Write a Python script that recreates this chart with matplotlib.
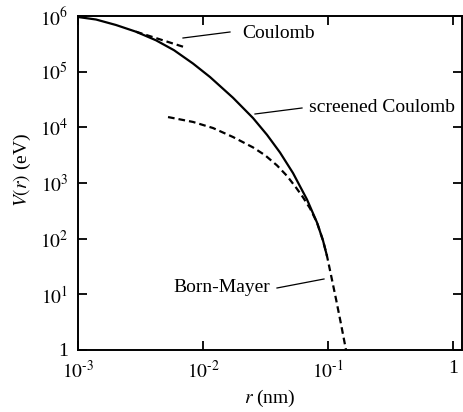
import numpy as np
import matplotlib
matplotlib.use("Agg")
import matplotlib.pyplot as plt
from matplotlib.ticker import FixedLocator, FuncFormatter, NullLocator

plt.rcParams['font.family'] = ['Liberation Serif', 'DejaVu Serif']
plt.rcParams['mathtext.fontset'] = 'stix'

# Screened Coulomb (solid), r in nm, V in eV
sc_r = [0.001, 0.001393, 0.002014, 0.002911, 0.004207, 0.005861, 0.008318, 0.011376,
        0.017378, 0.025119, 0.032509, 0.041305, 0.052481, 0.06792, 0.081658, 0.091201, 0.098175]
sc_v = [9.59e5, 8.65e5, 6.89e5, 5.22e5, 3.66e5, 2.43e5, 1.40e5, 8.02e4,
        3.40e4, 1.47e4, 7.34e3, 3.53e3, 1.51e3, 505, 195, 92.7, 48.8]

# Coulomb (dashed, visible part)
c_r = [0.002911, 0.00705]
c_v = [5.22e5, 2.77e5]

# Born-Mayer (dashed)
bm_r = [0.00525, 0.00832, 0.01202, 0.01738, 0.02512, 0.03133, 0.03908, 0.04699, 0.05546,
        0.0631, 0.07178, 0.081658, 0.091201, 0.098175, 0.10568, 0.11588, 0.12706, 0.13932]
bm_v = [1.53e4, 1.25e4, 9.72e3, 6.70e3, 4.36e3, 3.16e3, 2.07e3, 1.34e3, 830,
        553, 351, 195, 92.7, 48.8, 22.2, 8.24, 2.93, 1.0]

xticks = [1e-3, 1e-2, 1e-1, 1]
yticks = [1, 1e1, 1e2, 1e3, 1e4, 1e5, 1e6]

fig = plt.figure(figsize=(4.63, 4.12), dpi=100)
ax = fig.add_axes([78/463, 1-350/412, (462-78)/463, (350-16)/412])

dash = (0, (3, 1.8))
ax.plot(c_r, c_v, color='black', lw=1.6, ls=dash)
ax.plot(bm_r, bm_v, color='black', lw=1.6, ls=dash)
ax.plot(sc_r, sc_v, color='black', lw=1.6, solid_capstyle='butt')

ax.set_xscale('log')
ax.set_yscale('log')
ax.set_xlim(1e-3, 10**0.072)
ax.set_ylim(1, 1e6)

def fmt(v, pos):
    if abs(v - 1) < 1e-9:
        return '1'
    n = int(round(np.log10(v)))
    if n < 0:
        return r'$10^{\text{-}%d}$' % (-n)
    return r'$10^{%d}$' % n

ax.xaxis.set_major_locator(FixedLocator(xticks))
ax.yaxis.set_major_locator(FixedLocator(yticks))
ax.xaxis.set_minor_locator(NullLocator())
ax.yaxis.set_minor_locator(NullLocator())
ax.xaxis.set_major_formatter(FuncFormatter(fmt))
ax.yaxis.set_major_formatter(FuncFormatter(fmt))
ax.tick_params(which='major', direction='in', length=6.5, width=1.3,
               top=True, right=True, labelsize=14, pad=7)
for s in ax.spines.values():
    s.set_linewidth(1.4)

ax.set_xlabel(r'$r$ (nm)', fontsize=14, labelpad=4)
ax.set_ylabel(r'$V(r)$ (eV)', fontsize=14)
ax.yaxis.set_label_coords(-0.118, 0.54)

# annotations
def px2data(x, y):
    return ax.transData.inverted().transform(fig.transFigure.transform((x/463, 1-y/412)))

fig.canvas.draw()
lines = [((183, 38), (230, 32)), ((255, 114), (302, 108)), ((277, 288), (324, 279))]
for (a, b) in lines:
    p, q = px2data(*a), px2data(*b)
    ax.plot([p[0], q[0]], [p[1], q[1]], color='black', lw=0.9)

texts = [('Coulomb', 242, 33), ('screened Coulomb', 309, 107), ('Born-Mayer', 173, 288)]
for t, x, y in texts:
    ax.text(x/463, 1-y/412, t, transform=fig.transFigure, fontsize=14,
            ha='left', va='center')

fig.savefig('out.png', dpi=100)
